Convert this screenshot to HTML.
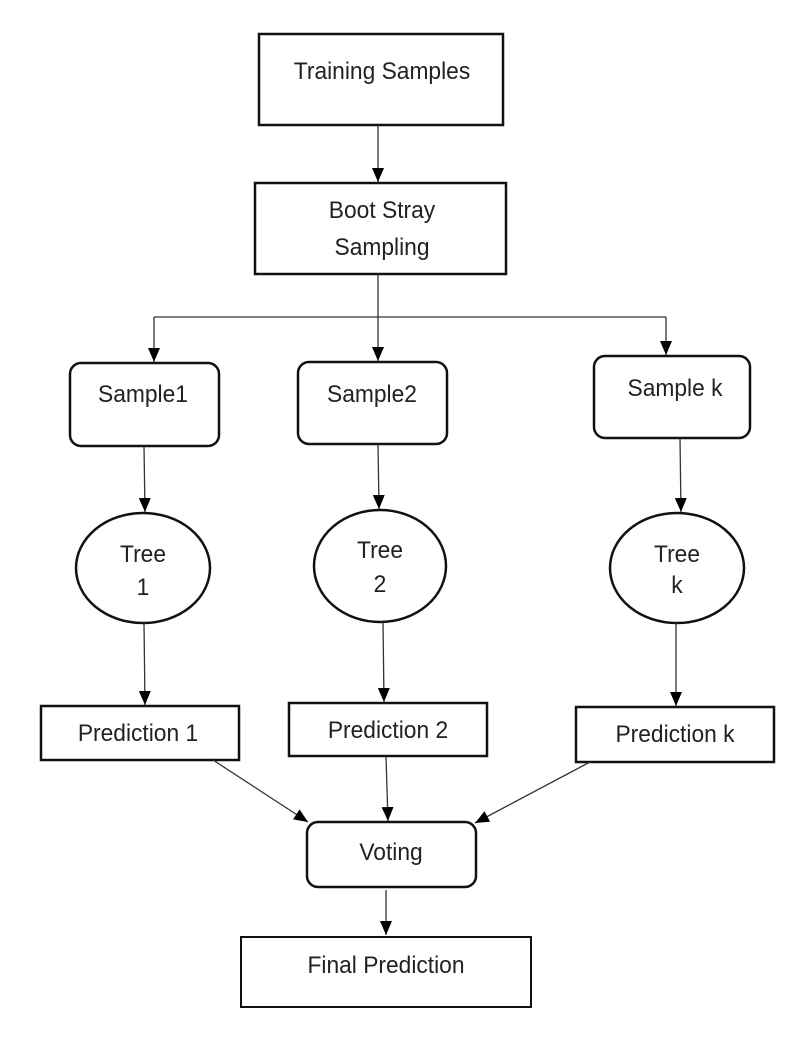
<!DOCTYPE html>
<html><head><meta charset="utf-8"><style>
html,body{margin:0;padding:0;background:#fff;}
svg{display:block;}
text{font-family:"Liberation Sans",sans-serif;font-size:24px;fill:#222;text-anchor:middle;}
</style></head><body>
<svg width="800" height="1040" viewBox="0 0 800 1040" xmlns="http://www.w3.org/2000/svg">
<defs>
<marker id="b" markerWidth="14" markerHeight="12" refX="14" refY="6" orient="auto" markerUnits="userSpaceOnUse" viewBox="0 0 14 12">
<path d="M0,0 L14,6 L0,12 Z" fill="#000"/>
</marker>
</defs>
<g fill="none" stroke="#111" stroke-width="2.5">
<rect x="259" y="34" width="244" height="91"/>
<rect x="255" y="183" width="251" height="91"/>
<rect x="70" y="363" width="149" height="83" rx="11"/>
<rect x="298" y="362" width="149" height="82" rx="11"/>
<rect x="594" y="356" width="156" height="82" rx="11"/>
<ellipse cx="143" cy="568" rx="67" ry="55"/>
<ellipse cx="380" cy="566" rx="66" ry="56"/>
<ellipse cx="677" cy="568" rx="67" ry="55"/>
<rect x="41" y="706" width="198" height="54"/>
<rect x="289" y="703" width="198" height="53"/>
<rect x="576" y="707" width="198" height="55"/>
<rect x="307" y="822" width="169" height="65" rx="11"/>
<rect x="241" y="937" width="290" height="70" stroke-width="2"/>
</g>
<g stroke="#333" stroke-width="1.3" fill="none">
<line x1="378" y1="125" x2="378" y2="182" marker-end="url(#b)"/>
<line x1="378" y1="274" x2="378" y2="317"/>
<line x1="154" y1="317" x2="666" y2="317"/>
<line x1="154" y1="317" x2="154" y2="362" marker-end="url(#b)"/>
<line x1="378" y1="317" x2="378" y2="361" marker-end="url(#b)"/>
<line x1="666" y1="317" x2="666" y2="355" marker-end="url(#b)"/>
<line x1="144" y1="446" x2="145" y2="512" marker-end="url(#b)"/>
<line x1="378" y1="444" x2="379" y2="509" marker-end="url(#b)"/>
<line x1="680" y1="438" x2="681" y2="512" marker-end="url(#b)"/>
<line x1="144" y1="623" x2="145" y2="705" marker-end="url(#b)"/>
<line x1="383" y1="622" x2="384" y2="702" marker-end="url(#b)"/>
<line x1="676" y1="623" x2="676" y2="706" marker-end="url(#b)"/>
<line x1="213" y1="760" x2="308" y2="822" marker-end="url(#b)"/>
<line x1="386" y1="757" x2="388" y2="821" marker-end="url(#b)"/>
<line x1="590" y1="762" x2="475" y2="823" marker-end="url(#b)"/>
<line x1="386" y1="890" x2="386" y2="935" marker-end="url(#b)"/>
</g>
<g transform="translate(382,79) scale(0.95,1)"><text>Training Samples</text></g>
<g transform="translate(382,218) scale(0.95,1)"><text>Boot Stray</text></g>
<g transform="translate(382,255) scale(0.95,1)"><text>Sampling</text></g>
<g transform="translate(143,402) scale(0.95,1)"><text>Sample1</text></g>
<g transform="translate(372,402) scale(0.95,1)"><text>Sample2</text></g>
<g transform="translate(675,396) scale(0.95,1)"><text>Sample k</text></g>
<g transform="translate(143,562) scale(0.95,1)"><text>Tree</text></g>
<g transform="translate(143,595) scale(0.95,1)"><text>1</text></g>
<g transform="translate(380,558) scale(0.95,1)"><text>Tree</text></g>
<g transform="translate(380,592) scale(0.95,1)"><text>2</text></g>
<g transform="translate(677,562) scale(0.95,1)"><text>Tree</text></g>
<g transform="translate(677,593) scale(0.95,1)"><text>k</text></g>
<g transform="translate(138,741) scale(0.95,1)"><text>Prediction 1</text></g>
<g transform="translate(388,738) scale(0.95,1)"><text>Prediction 2</text></g>
<g transform="translate(675,742) scale(0.95,1)"><text>Prediction k</text></g>
<g transform="translate(391,860) scale(0.95,1)"><text>Voting</text></g>
<g transform="translate(386,973) scale(0.95,1)"><text>Final Prediction</text></g>
</svg>
</body></html>
